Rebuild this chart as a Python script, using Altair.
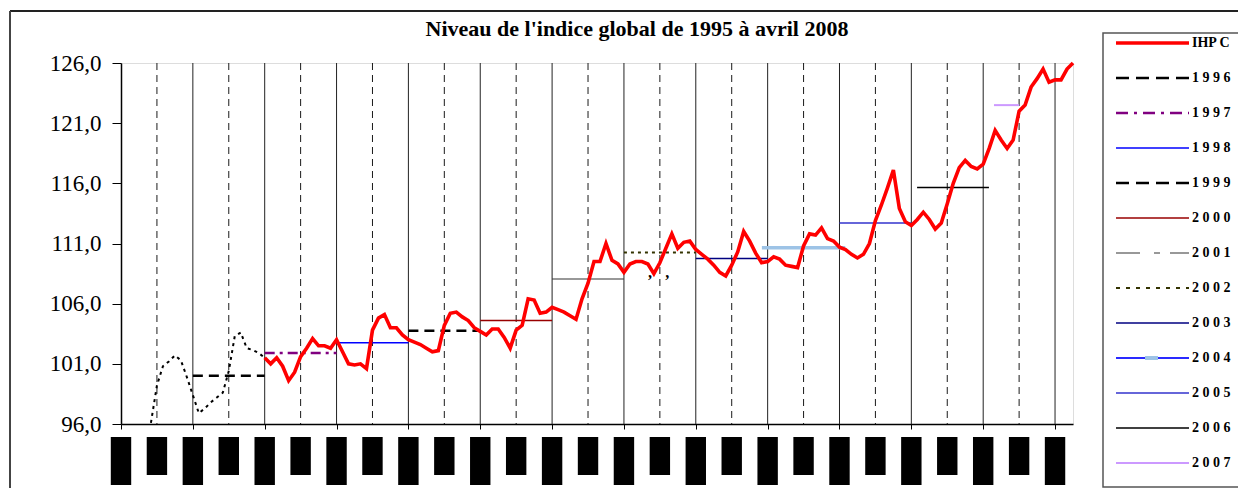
import altair as alt
import pandas as pd

TITLE = "Niveau de l'indice global de 1995 à avril 2008"

# ---- data ----
# IHPC monthly, from January 1997 to April 2008
ihpc_first_year = 1997
ihpc_values = [
    101.5, 101.0, 101.5, 100.8, 99.6, 100.3, 101.6, 102.3, 103.1, 102.5, 102.5, 102.3,   # 1997
    103.0, 102.0, 101.0, 100.9, 101.0, 100.6, 103.8, 104.8, 105.1, 104.0, 104.0, 103.4,  # 1998
    103.0, 102.8, 102.6, 102.3, 102.0, 102.1, 104.2, 105.2, 105.3, 104.9, 104.6, 104.0,  # 1999
    103.7, 103.4, 103.9, 103.9, 103.2, 102.3, 103.8, 104.2, 106.4, 106.3, 105.2, 105.3,  # 2000
    105.7, 105.5, 105.3, 105.0, 104.7, 106.4, 107.7, 109.5, 109.5, 111.0, 109.6, 109.3,  # 2001
    108.6, 109.3, 109.5, 109.5, 109.3, 108.5, 109.4, 110.6, 111.8, 110.6, 111.1, 111.2,  # 2002
    110.5, 110.1, 109.7, 109.2, 108.6, 108.3, 109.2, 110.3, 112.0, 111.2, 110.2, 109.4,  # 2003
    109.5, 109.9, 109.7, 109.2, 109.1, 109.0, 110.8, 111.8, 111.7, 112.3, 111.4, 111.2,  # 2004
    110.7, 110.5, 110.1, 109.8, 110.1, 111.0, 112.9, 114.2, 115.6, 117.1, 113.9, 112.8,  # 2005
    112.5, 113.0, 113.6, 113.0, 112.2, 112.7, 114.3, 116.0, 117.3, 117.9, 117.4, 117.2,  # 2006
    117.6, 118.9, 120.4, 119.6, 118.9, 119.6, 122.0, 122.5, 124.0, 124.7, 125.5, 124.4,  # 2007
    124.6, 124.6, 125.5, 126.0,                                                          # 2008
]

# older index (dotted), monthly from June 1995 to January 1997
old_first_year = 1995
old_first_month = 5  # June (0 = January)
old_values = [
    96.1, 99.2, 100.8, 101.2, 101.7, 101.3, 99.9,
    98.4, 96.9, 97.3, 97.8, 98.2, 98.6, 100.4, 103.3, 103.6, 102.3, 102.15, 101.9,
    101.5,
]

# yearly average levels
level_names = ["1996", "1997", "1998", "1999", "2000", "2001", "2002",
               "2003", "2004", "2005", "2006", "2007"]
level_values = [100.0, 101.9, 102.75, 103.75, 104.6, 108.05, 110.25,
                109.75, 110.65, 112.7, 115.65, 122.5]
level_from = [1996.0, 1997.0, 1998.0, 1999.0, 2000.0, 2001.0, 2002.0,
              2003.0, 2003.92, 2005.0, 2006.08, 2007.15]
level_to = [1997.0, 1998.0, 1999.0, 2000.0, 2001.0, 2002.0, 2003.0,
            2004.0, 2005.08, 2006.0, 2007.08, 2007.5]

legend_names = ["IHPC"] + level_names
legend_texts = ["IHP C", "1 9 9 6", "1 9 9 7", "1 9 9 8", "1 9 9 9", "2 0 0 0",
                "2 0 0 1", "2 0 0 2", "2 0 0 3", "2 0 0 4", "2 0 0 5", "2 0 0 6", "2 0 0 7"]

year_lines = list(range(1996, 2009))
half_lines = [y + 0.5 for y in range(1995, 2008)]
axis_years = list(range(1995, 2009))
y_ticks = [96, 101, 106, 111, 116, 121, 126]
label_blocks = [y / 2 for y in range(1995 * 2, 2008 * 2 + 1)]
stray_marks_x = [2002.36, 2002.6]
stray_marks_y = [107.9, 107.9]

# ---- styles ----
STYLE = {
    "IHPC": dict(color="#ff0000", width=3.6),
    "1996": dict(color="#000000", width=2.5, dash=[10, 6], ldash=[13, 7]),
    "1997": dict(color="#800080", width=2.5, dash=[10, 5, 3, 5], ldash=[12, 6, 3, 6]),
    "1998": dict(color="#0000ff", width=1.6),
    "1999": dict(color="#000000", width=2.5, dash=[10, 6], ldash=[13, 7]),
    "2000": dict(color="#990000", width=1.6),
    "2001": dict(color="#333333", width=1.1, ldash=[24, 14, 6, 10]),
    "2002": dict(color="#333300", width=2, dash=[3, 4], ldash=[4, 6]),
    "2003": dict(color="#000080", width=1.6),
    "2004": dict(color="#9dc3e6", width=3.5, lcolor="#2a2aff", lwidth=2),
    "2005": dict(color="#3333cc", width=1.6),
    "2006": dict(color="#000000", width=1.6),
    "2007": dict(color="#cc99ff", width=2),
}

PLOT_W, PLOT_H = 952, 361
SERIF = "Liberation Serif"

x_scale = alt.Scale(domain=[1995, 2008.25], nice=False, zero=False)
y_scale = alt.Scale(domain=[96, 126], nice=False, zero=False)

x_axis = alt.Axis(values=axis_years, labels=False, ticks=True, tickSize=5,
                  tickColor="black", domainColor="black", domainWidth=1.5,
                  grid=False, title=None)
y_axis = alt.Axis(values=y_ticks,
                  labelExpr="replace(format(datum.value, '.1f'), '.', ',')",
                  labelFont=SERIF, labelFontSize=23, labelColor="black",
                  tickSize=9, tickColor="black", domainColor="black",
                  domainWidth=1.5, grid=False, title=None, labelPadding=11)

one = pd.DataFrame({"k": [0]})

# grid lines
solid_grid = alt.Chart(pd.DataFrame({"x": year_lines})).mark_rule(
    color="#222222", strokeWidth=1).encode(
    x=alt.X("x:Q", scale=x_scale, axis=x_axis))
dashed_grid = alt.Chart(pd.DataFrame({"x": half_lines})).mark_rule(
    color="#1a1a1a", strokeWidth=1, strokeDash=[7, 5]).encode(
    x=alt.X("x:Q", scale=x_scale))

# axis holder
axis_layer = alt.Chart(pd.DataFrame({"x": [1995], "y": [96]})).mark_point(opacity=0).encode(
    x=alt.X("x:Q", scale=x_scale, axis=x_axis),
    y=alt.Y("y:Q", scale=y_scale, axis=y_axis))

layers = [solid_grid, dashed_grid, axis_layer]

# yearly level lines
for name, val, a, b in zip(level_names, level_values, level_from, level_to):
    s = STYLE[name]
    kw = dict(color=s["color"], strokeWidth=s["width"])
    if "dash" in s:
        kw["strokeDash"] = s["dash"]
    df = pd.DataFrame({"x": [a], "x2": [b], "y": [val]})
    layers.append(alt.Chart(df).mark_rule(**kw).encode(
        x=alt.X("x:Q", scale=x_scale), x2="x2:Q", y=alt.Y("y:Q", scale=y_scale)))

# old dotted index
old_df = pd.DataFrame({
    "x": [old_first_year + (old_first_month + i) / 12 for i in range(len(old_values))],
    "y": old_values})
layers.append(alt.Chart(old_df).mark_line(
    color="black", strokeWidth=2, strokeDash=[3, 4], clip=True).encode(
    x=alt.X("x:Q", scale=x_scale), y=alt.Y("y:Q", scale=y_scale)))

# IHPC red line
ihpc_df = pd.DataFrame({
    "x": [ihpc_first_year + i / 12 for i in range(len(ihpc_values))],
    "y": ihpc_values})
layers.append(alt.Chart(ihpc_df).mark_line(
    color=STYLE["IHPC"]["color"], strokeWidth=STYLE["IHPC"]["width"]).encode(
    x=alt.X("x:Q", scale=x_scale), y=alt.Y("y:Q", scale=y_scale)))

# stray marks
layers.append(alt.Chart(pd.DataFrame({"x": stray_marks_x, "y": stray_marks_y, "t": ["’", "’"]}))
              .mark_text(font=SERIF, fontSize=16, fontWeight="bold", color="black")
              .encode(x=alt.X("x:Q", scale=x_scale), y=alt.Y("y:Q", scale=y_scale), text="t:N"))

# obscured x labels (black blocks)
blocks = pd.DataFrame({"pos": label_blocks})
blocks["kind"] = ["year" if float(p).is_integer() else "half" for p in label_blocks]
for kind, y2 in (("year", 422), ("half", 412)):
    layers.append(alt.Chart(blocks).transform_filter(f"datum.kind == '{kind}'")
                  .transform_calculate(x1="datum.pos - 0.142", x2="datum.pos + 0.142")
                  .mark_rect(color="black", clip=False).encode(
                      x=alt.X("x1:Q", scale=x_scale), x2="x2:Q",
                      y=alt.value(374), y2=alt.value(y2)))

# title
layers.append(alt.Chart(pd.DataFrame({"t": [TITLE]})).mark_text(
    font=SERIF, fontSize=22, fontWeight="bold", color="black",
    align="center", baseline="alphabetic").encode(
    x=alt.value(516), y=alt.value(-27), text="t:N"))

# outer frame lines
layers.append(alt.Chart(one).mark_rule(color="#222222", strokeWidth=2).encode(
    x=alt.value(-111), x2=alt.value(1200), y=alt.value(-52)))
layers.append(alt.Chart(one).mark_rule(color="#444444", strokeWidth=2).encode(
    x=alt.value(-111), y=alt.value(-52), y2=alt.value(460)))

# legend box
layers.append(alt.Chart(one).mark_rect(fillOpacity=0, stroke="#555555", strokeWidth=1.5).encode(
    x=alt.value(982), x2=alt.value(1200), y=alt.value(-30), y2=alt.value(424)))

# legend entries
for i, (name, text) in enumerate(zip(legend_names, legend_texts)):
    s = STYLE[name]
    yy = -20 + 35 * i
    kw = dict(color=s.get("lcolor", s["color"]), strokeWidth=s.get("lwidth", s["width"]))
    d = s.get("ldash", s.get("dash"))
    if d:
        kw["strokeDash"] = d
    layers.append(alt.Chart(one).mark_rule(**kw).encode(
        x=alt.value(995), x2=alt.value(1068), y=alt.value(yy)))
    if name == "2004":
        layers.append(alt.Chart(one).mark_rule(color=s["color"], strokeWidth=4).encode(
            x=alt.value(1024), x2=alt.value(1037), y=alt.value(yy)))
    layers.append(alt.Chart(pd.DataFrame({"t": [text]})).mark_text(
        font=SERIF, fontSize=14, fontWeight="bold", color="black",
        align="left", baseline="middle").encode(
        x=alt.value(1071), y=alt.value(yy), text="t:N"))

chart = alt.layer(*layers).properties(
    width=PLOT_W, height=PLOT_H,
    autosize=alt.AutoSizeParams(type="none"),
    padding={"left": 113, "top": 55, "right": 165, "bottom": 64},
).configure_view(stroke="#999999", strokeWidth=2).configure(background="white")

chart.save("out.html", embed_options={"renderer": "svg", "actions": False})
